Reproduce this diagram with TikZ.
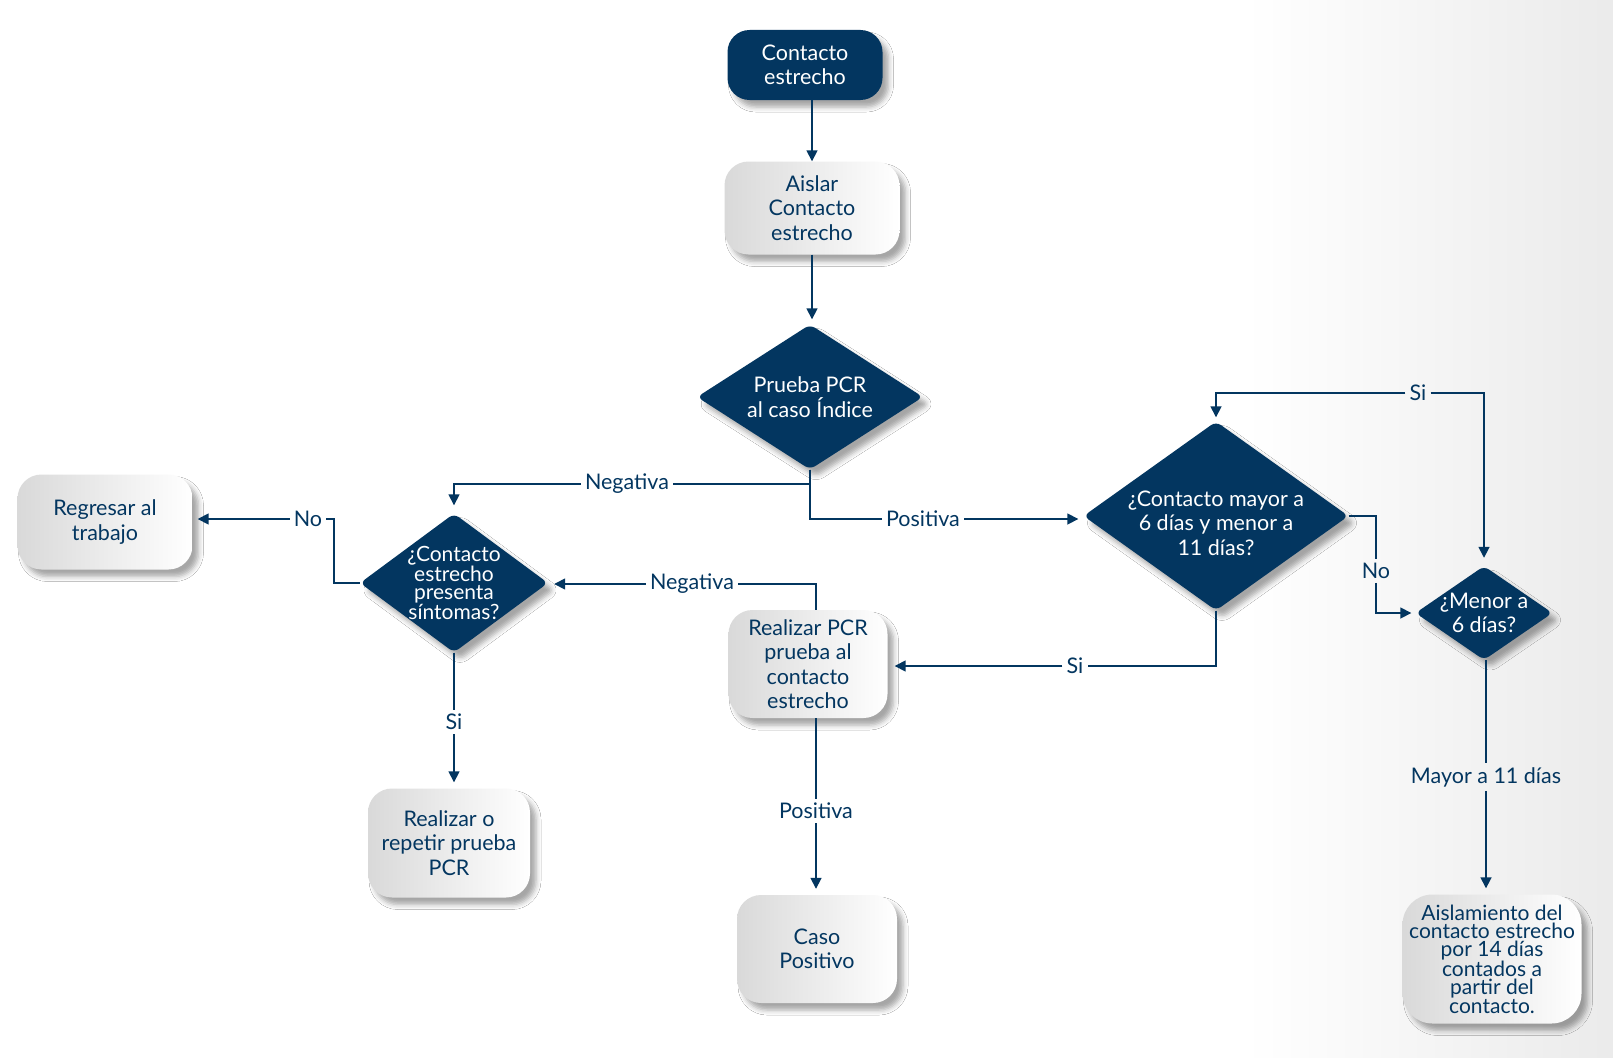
\documentclass[tikz,border=0pt]{standalone}
\usepackage{fontspec}
\setmainfont{Lato}
\usetikzlibrary{shapes.geometric,arrows.meta,shadows.blur}
\definecolor{navy}{RGB}{3,54,96}

\begin{document}
\begin{tikzpicture}[x=1pt,y=-1pt,
        soft/.style={blur shadow={shadow xshift=6pt, shadow yshift=-7pt, shadow blur radius=5pt, shadow opacity=35}},
        base/.style={font=\fontsize{21.5}{24.5}\selectfont, align=center, inner sep=0pt, soft},
        darkbox/.style={base, rounded corners=22pt, fill=navy, text=white},
        lightbox/.style={base, rounded corners=24pt, left color=gray!30, right color=white, text=navy},
        decision/.style={base, shape=diamond, rounded corners=6pt, fill=navy, text=white, inner sep=-20pt},
        lbl/.style={font=\fontsize{21.5}{24}\selectfont, text=navy, inner sep=4pt},
        ln/.style={draw=navy, line width=1.6pt},
        arr/.style={ln, -{Triangle[width=11pt,length=11pt]}}]
        \useasboundingbox (0,0) rectangle (1613,1057);
        \fill[white] (0,0) rectangle (1613,1057);
        \shade[left color=white, right color=gray!16] (1245,0) rectangle (1613,1057);
        
        \node[darkbox, minimum width=155, minimum height=70] (contacto) at (805,65) {Contacto\\estrecho};
        \node[lightbox, minimum width=175, minimum height=93] (aislar) at (812,208) {Aislar\\Contacto\\estrecho};
        \node[decision, minimum width=226, minimum height=145] (prueba) at (810,397) {Prueba PCR\\al caso Índice};
        \node[decision, minimum width=265, minimum height=189] (mayor) at (1216,516) {\rule{0pt}{30pt}¿Contacto mayor a\\6 días y menor a\\11 días?};
        \node[decision, minimum width=137, minimum height=94] (menor) at (1484,613) {¿Menor a\\6 días?};
        \node[lightbox, minimum width=179, minimum height=129, rounded corners=30pt, font=\fontsize{21}{18.3}\selectfont] (aislam) at (1492,959) {Aislamiento del\\contacto estrecho\\por 14 días\\contados a\\partir del\\contacto.};
        \node[lightbox, minimum width=175, minimum height=95] (regresar) at (105,522) {Regresar al\\trabajo};
        \node[decision, minimum width=188, minimum height=139, font=\fontsize{21}{18.5}\selectfont] (sintomas) at (454,583) {¿Contacto\\estrecho\\presenta\\síntomas?};
        \node[lightbox, minimum width=159, minimum height=108] (realizar) at (808,664) {Realizar PCR\\prueba al\\contacto\\estrecho};
        \node[lightbox, minimum width=162, minimum height=109] (repetir) at (449,843) {Realizar o\\repetir prueba\\PCR};
        \node[lightbox, minimum width=160, minimum height=108] (caso) at (817,949) {Caso\\Positivo};
        
        % etiquetas de las flechas
        \node[lbl] (lneg1) at (627,484) {Negativa};
        \node[lbl] (lpos1) at (923,519) {Positiva};
        \node[lbl] (lno1) at (308,519) {No};
        \node[lbl] (lsi1) at (454,722) {Si};
        \node[lbl] (lneg2) at (692,584) {Negativa};
        \node[lbl] (lsi2) at (1075,666) {Si};
        \node[lbl] (lpos2) at (816,811) {Positiva};
        \node[lbl] (lno2) at (1376,571) {No};
        \node[lbl] (lsi3) at (1418,393) {Si};
        \node[lbl] (lmayor) at (1486,777) {Mayor a 11 días};
        \coordinate (cno1) at (334,519);
        
        \draw[arr] (contacto.south -| aislar.north) -- (aislar.north);
        \draw[arr, shorten >=5pt] (aislar.south) -- (aislar.south |- prueba.north);
        \draw[ln] (prueba.south) |- (lneg1);
        \draw[arr, shorten >=8pt] (lneg1) -| (sintomas.north);
        \draw[ln] (prueba.south) |- (lpos1);
        \draw[arr, shorten >=5pt] (lpos1) -- (lpos1 -| mayor.west);
        \draw[ln] (sintomas.west) -| (cno1) -- (lno1);
        \draw[arr, shorten >=5pt] (lno1) -- (lno1 -| regresar.east);
        \draw[ln] (sintomas.south) -- (lsi1);
        \draw[arr, shorten >=6pt] (lsi1) -- (lsi1 |- repetir.north);
        \draw[ln] ([xshift=8pt]realizar.north) |- (lneg2);
        \draw[arr, shorten >=6pt] (lneg2) -- (lneg2 -| sintomas.east);
        \draw[ln] ([xshift=8pt]realizar.south) -- (lpos2);
        \draw[arr, shorten >=6pt] (lpos2) -- (lpos2 |- caso.north);
        \draw[ln] (mayor.south) |- (lsi2);
        \draw[arr, shorten >=7pt] (lsi2) -- (lsi2 -| realizar.east);
        \draw[ln] (mayor.east) -| (lno2);
        \draw[arr, shorten >=4pt] (lno2) |- (menor.west);
        \draw[arr, shorten >=4pt] (lsi3) -| (mayor.north);
        \draw[arr, shorten >=8pt] (lsi3) -| (menor.north);
        \draw[ln] (menor.south -| lmayor) -- (lmayor);
        \draw[arr, shorten >=6pt] (lmayor) -- (lmayor |- aislam.north);
    \end{tikzpicture}
\end{document}
